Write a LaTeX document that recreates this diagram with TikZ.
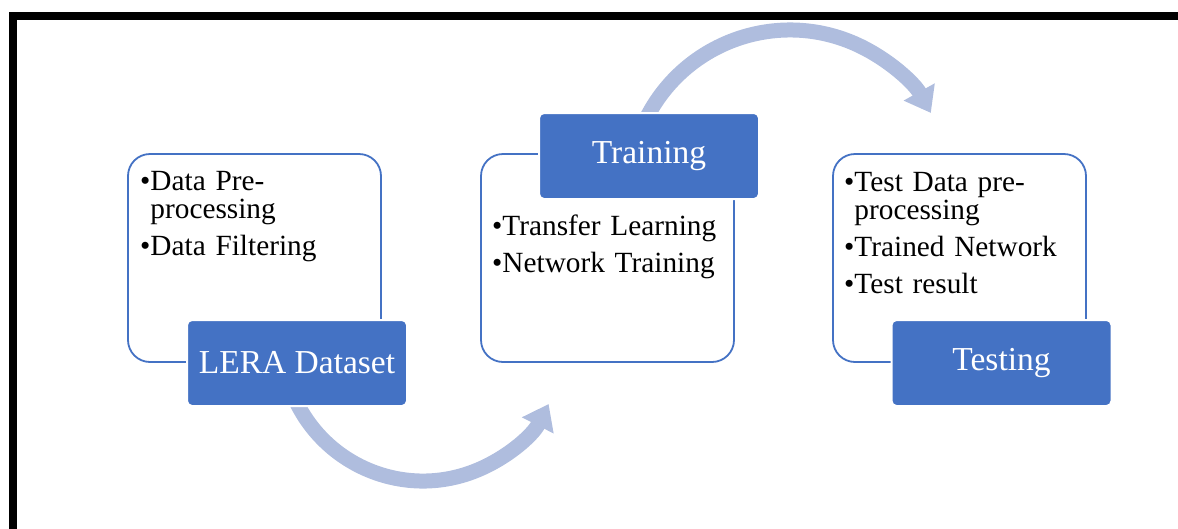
\documentclass[tikz,border=0pt]{standalone}
\usepackage{fontspec}
\setmainfont{Liberation Serif}
\usetikzlibrary{arrows.meta,positioning}

\definecolor{stageblue}{RGB}{68,114,196}
\definecolor{flowblue}{RGB}{175,189,222}
\newlength\itemgap
\setlength\itemgap{9pt}
\newcommand\bul[1]{\ifhmode\par\vskip\itemgap\fi
    \setbox0\hbox{•}\hangindent=\wd0\hangafter=1\noindent\box0#1}

\begin{document}
\begin{tikzpicture}[
        x = 1pt,
        y = -1pt,
        panel/.style = {
                draw=stageblue,
                line width=1.8pt,
                rounded corners=22pt,
                minimum width=253pt,
                minimum height=208pt,
            },
        stage/.style = {
                rectangle,
                rounded corners=5pt,
                fill=stageblue,
                draw=white,
                line width=2pt,
                text=white,
                minimum width=220pt,
                minimum height=86pt,
                font=\fontsize{33.5}{36}\selectfont,
            },
        items/.style = {
                anchor=base west,
                inner sep=0pt,
                text width=240pt,
                align=left,
                font=\fontsize{29.3}{28}\selectfont,
            },
        flow/.style = {
                draw=flowblue,
                line width=15pt,
                -{Triangle[length=24pt,width=34pt]},
            },
    ]
    \useasboundingbox (0,0) rectangle (1178,528);
    \clip (0,0) rectangle (1178,528);
    \draw[line width=8pt] (13,15.5) rectangle (1400,800);
    % outlined panels
    \foreach \x [count=\j] in {254.5, 607.5, 959.5}
    \node[panel] (P-\j) at (\x,258) {};
    % curved arrows between the stages
    \coordinate (lowhub) at (423,340);
    \coordinate (highhub) at (790,191);
    \draw[flow] (lowhub) ++(160:141) arc[start angle=160, end angle=27, radius=141];
    \draw[flow] (highhub) ++(-155:161) arc[start angle=-155, end angle=-29, radius=161];
    % stage boxes
    \node[stage] (lera) at (297,363) {LERA Dataset};
    \node[stage] (training) at (649,156) {Training};
    \node[stage] (testing) at (1001.5,363) {Testing};
    % bullet lists
    \node[items] (lera-list) at (140,153.5) {\bul{Data Pre-\break processing}\bul{Data Filtering}};
    \node[items] (training-list) at (492,198) {\bul{Transfer Learning}\bul{Network Training}};
    \node[items] (testing-list) at (844,154.5) {\bul{Test Data pre-\break processing}\bul{Trained Network}\bul{Test result}};
\end{tikzpicture}
\end{document}
